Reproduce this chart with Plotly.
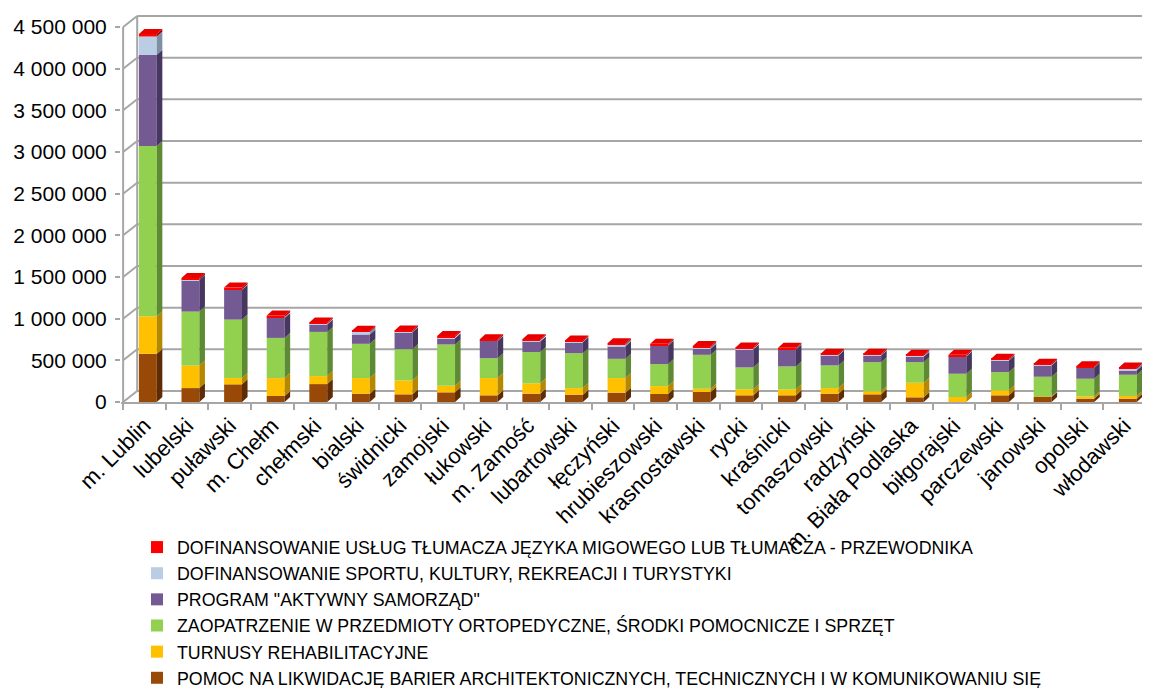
import plotly.graph_objects as go

# ---------------- data ----------------
categories = ["m. Lublin", "lubelski", "puławski", "m. Chełm", "chełmski", "bialski",
              "świdnicki", "zamojski", "łukowski", "m. Zamość", "lubartowski", "łęczyński",
              "hrubieszowski", "krasnostawski", "rycki", "kraśnicki", "tomaszowski",
              "radzyński", "m. Biała Podlaska", "biłgorajski", "parczewski", "janowski",
              "opolski", "włodawski"]

bariery = [578000, 167000, 212000, 72000, 215000, 100000, 92000, 116000, 80000, 100000,
           88000, 112000, 96000, 120000, 80000, 80000, 100000, 92000, 56000, 0,
           80000, 60000, 40000, 40000]
turnusy = [451000, 272000, 75000, 215000, 96000, 187000, 167000, 79000, 207000, 124000,
           79000, 175000, 95000, 39000, 72000, 72000, 67000, 36000, 175000, 60000,
           60000, 5000, 28000, 32000]
zaopatrzenie = [2042000, 646000, 702000, 482000, 530000, 411000, 375000, 495000, 239000, 375000,
                419000, 231000, 264000, 407000, 263000, 275000, 272000, 350000, 247000, 279000,
                219000, 238000, 211000, 255000]
aktywny_samorzad = [1095000, 378000, 359000, 239000, 88000, 112000, 203000, 76000, 207000, 128000,
                    132000, 152000, 223000, 72000, 215000, 203000, 120000, 81000, 64000, 207000,
                    140000, 136000, 131000, 52000]
sport_kultura = [220000, 5000, 5000, 10000, 10000, 30000, 5000, 10000, 5000, 12000,
                 5000, 20000, 5000, 20000, 10000, 5000, 5000, 5000, 10000, 5000,
                 5000, 5000, 5000, 20000]
tlumacz = [30000, 20000, 20000, 20000, 15000, 15000, 15000, 15000, 15000, 15000,
           15000, 15000, 15000, 15000, 15000, 15000, 15000, 15000, 15000, 15000,
           15000, 15000, 15000, 15000]

series_names = [
    "POMOC NA LIKWIDACJĘ BARIER ARCHITEKTONICZNYCH, TECHNICZNYCH I W KOMUNIKOWANIU SIĘ",
    "TURNUSY REHABILITACYJNE",
    "ZAOPATRZENIE W PRZEDMIOTY ORTOPEDYCZNE, ŚRODKI POMOCNICZE I SPRZĘT",
    "PROGRAM \"AKTYWNY SAMORZĄD\"",
    "DOFINANSOWANIE SPORTU, KULTURY, REKREACJI I TURYSTYKI",
    "DOFINANSOWANIE USŁUG TŁUMACZA JĘZYKA MIGOWEGO LUB TŁUMACZA - PRZEWODNIKA",
]
series_values = [bariery, turnusy, zaopatrzenie, aktywny_samorzad, sport_kultura, tlumacz]

y_tick_values = [0, 500000, 1000000, 1500000, 2000000, 2500000, 3000000, 3500000, 4000000, 4500000]
y_tick_labels = ["0", "500 000", "1 000 000", "1 500 000", "2 000 000", "2 500 000",
                 "3 000 000", "3 500 000", "4 000 000", "4 500 000"]

# ---------------- style ----------------
front_colors = ["#984807", "#FFC000", "#92D050", "#745A93", "#B9CDE5", "#FF0000"]
side_colors = ["#5E2C04", "#B58800", "#5E8A34", "#473660", "#7E8EA4", "#A00000"]
top_color = "#E80000"
grid_color = "#A6A6A6"

BAR_W = 0.42      # front face width (category units)
BAR_OFF = -0.13   # front face left edge relative to category centre
SIDE_DX = 0.13    # bar depth, x
SIDE_DY = 60000   # bar depth, y (value units)
WALL_DX = 0.33    # wall depth, x
WALL_DY = 132000  # wall depth, y
X_MIN, X_MAX = -0.55, 23.6
Y_MAX = 4680000

FIG_W, FIG_H = 1142, 680   # page body adds an 8 px margin

x_idx = list(range(len(categories)))

fig = go.Figure()

bases = [0] * len(categories)
side_traces = []
for name, vals, fc, sc in zip(series_names, series_values, front_colors, side_colors):
    fig.add_trace(go.Bar(
        x=x_idx, y=vals, base=bases, name=name, width=BAR_W, offset=BAR_OFF,
        marker=dict(color=fc, line=dict(width=0)), showlegend=True,
    ))
    sx, sy = [], []
    for i, (b, v) in enumerate(zip(bases, vals)):
        if v <= 0:
            continue
        xr = i + BAR_OFF + BAR_W
        sx += [xr, xr + SIDE_DX, xr + SIDE_DX, xr, xr, None]
        sy += [b, b + SIDE_DY, b + v + SIDE_DY, b + v, b, None]
    side_traces.append(go.Scatter(x=sx, y=sy, mode="lines", fill="toself",
                                  fillcolor=sc, line=dict(width=0), hoverinfo="skip",
                                  showlegend=False))
    bases = [b + v for b, v in zip(bases, vals)]

for t in side_traces:
    fig.add_trace(t)

# top faces
tx, ty = [], []
for i, top in enumerate(bases):
    xl = i + BAR_OFF
    xr = xl + BAR_W
    tx += [xl, xr, xr + SIDE_DX, xl + SIDE_DX, xl, None]
    ty += [top, top, top + SIDE_DY, top + SIDE_DY, top, None]
fig.add_trace(go.Scatter(x=tx, y=ty, mode="lines", fill="toself", fillcolor=top_color,
                         line=dict(width=0), hoverinfo="skip", showlegend=False))

# back wall, gridlines and front axis
shapes = []
x0 = -0.5
for v in y_tick_values:
    shapes.append(dict(type="line", xref="x", yref="y", x0=x0 + WALL_DX, x1=X_MAX,
                       y0=v + WALL_DY, y1=v + WALL_DY, layer="below",
                       line=dict(color=grid_color, width=2)))
    shapes.append(dict(type="line", xref="x", yref="y", x0=x0, x1=x0 + WALL_DX,
                       y0=v, y1=v + WALL_DY, layer="below",
                       line=dict(color=grid_color, width=2)))
shapes.append(dict(type="line", xref="x", yref="y", x0=x0 + WALL_DX, x1=x0 + WALL_DX,
                   y0=WALL_DY, y1=y_tick_values[-1] + WALL_DY, layer="below",
                   line=dict(color=grid_color, width=2)))
shapes.append(dict(type="line", xref="x", yref="y", x0=x0, x1=x0,
                   y0=0, y1=y_tick_values[-1], layer="below",
                   line=dict(color=grid_color, width=2)))

fig.update_layout(
    width=FIG_W, height=FIG_H,
    margin=dict(l=113, r=0, t=4, b=286, autoexpand=False),
    paper_bgcolor="white", plot_bgcolor="white",
    barmode="overlay",
    shapes=shapes,
    font=dict(family="Liberation Sans, Arial, sans-serif", color="black"),
    xaxis=dict(range=[X_MIN, X_MAX], tickmode="array", tickvals=x_idx, ticktext=categories,
               tickangle=-45, ticks="", showgrid=False, zeroline=False,
               showline=True, linecolor=grid_color, linewidth=2, automargin=False,
               tickfont=dict(size=22, family="Liberation Sans, Arial, sans-serif"),
               minor=dict(tickvals=[i - 0.5 for i in range(len(categories) + 1)],
                          ticks="outside", ticklen=6, tickcolor=grid_color, tickwidth=2)),
    yaxis=dict(range=[0, Y_MAX], tickmode="array", tickvals=y_tick_values,
               ticktext=y_tick_labels, ticks="outside", ticklen=5, tickcolor=grid_color,
               tickwidth=2, showgrid=False, zeroline=False, showline=False,
               ticklabelstandoff=4, automargin=False,
               tickfont=dict(size=21, family="Liberation Sans, Arial, sans-serif")),
    legend=dict(orientation="v", traceorder="reversed", xref="container", yref="container",
                x=129 / FIG_W, y=1 - 521 / FIG_H, xanchor="left", yanchor="top",
                bgcolor="rgba(0,0,0,0)",
                font=dict(size=17.8, family="Liberation Sans, Arial, sans-serif")),
)

fig.write_html("out.html")
